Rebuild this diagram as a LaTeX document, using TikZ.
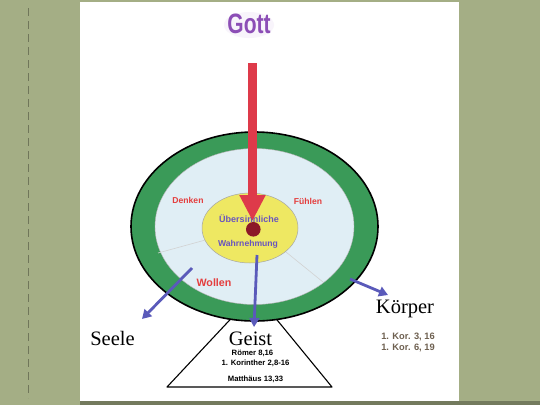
\documentclass[tikz,border=0pt]{standalone}
\usepackage{fontspec}
\setmainfont{Liberation Serif}
\setsansfont{Liberation Sans}
\usetikzlibrary{shapes.geometric}
\usetikzlibrary{positioning}
\usetikzlibrary{arrows.meta}
\definecolor{leinen}{RGB}{164,174,133}
\definecolor{naht}{RGB}{112,118,90}
\definecolor{ringgruen}{RGB}{58,154,88}
\definecolor{seelblau}{RGB}{224,238,245}
\definecolor{kerngelb}{RGB}{238,232,98}
\definecolor{dunkelrot}{RGB}{140,24,40}
\definecolor{pfeilrot}{RGB}{222,58,74}
\definecolor{pfeilblau}{RGB}{90,90,186}
\definecolor{lila}{RGB}{140,78,182}
\definecolor{schriftblau}{RGB}{105,85,190}
\definecolor{schriftrot}{RGB}{228,62,62}
\definecolor{stellbraun}{RGB}{110,96,80}
\tikzset{
    ringnode/.style = {ellipse, draw=black, line width=1.6pt, fill=ringgruen, minimum width=247pt, minimum height=189pt, inner sep=0pt},
    seelnode/.style = {ellipse, draw=gray!60, line width=0.4pt, fill=seelblau, minimum width=199pt, minimum height=156pt, inner sep=0pt},
    kernnode/.style = {ellipse, draw=gray!70, line width=0.5pt, fill=kerngelb, minimum width=96pt, minimum height=70pt, inner sep=0pt},
    punkt/.style = {circle, fill=dunkelrot, minimum size=14.6pt, inner sep=0pt},
    wort/.style = {font=\sffamily\bfseries\fontsize{8.6}{10}\selectfont, anchor=base, inner sep=0pt},
    wortrot/.style = {wort, text=schriftrot},
    wortblau/.style = {wort, text=schriftblau, font=\sffamily\bfseries\fontsize{9}{10}\selectfont},
    titel/.style = {font=\fontsize{20.5}{22}\selectfont, anchor=base, inner sep=0pt},
    stelle/.style = {font=\sffamily\bfseries\fontsize{7.7}{9}\selectfont, anchor=base, inner sep=0pt},
    gott/.style = {font=\sffamily\bfseries\fontsize{28}{30}\selectfont, text=lila, anchor=base, inner sep=0pt},
    pfeilb/.style = {-{Triangle[width=10pt,length=9pt]}, line width=2.8pt, pfeilblau},
    pfeilr/.style = {-{Triangle[width=24.5pt,length=26pt]}, line width=9pt, pfeilrot},
    teiler/.style = {gray!35, line width=0.6pt}
}

\begin{document}
\begin{tikzpicture}[x=1pt,y=-1pt]
\useasboundingbox (0,0) rectangle (540,405);
% slide
\fill[leinen] (0,0) rectangle (540,405);
\fill[leinen!70!black] (80,401) rectangle (540,405);
\fill[white] (80,2) rectangle (459,401);
\draw[naht, line width=0.9pt, dash pattern=on 8pt off 5pt] (28,8) -- (28,398);
% Geist dreieck
\coordinate (spitze) at (255,293);
\coordinate (links) at (167,387);
\coordinate (rechts) at (332,387);
\draw[fill=white, line width=1.1pt, line join=round] (spitze) -- (links) -- (rechts) -- cycle;
% ringe
\node[ringnode] (koerper) at (254.5,226.5) {};
\node[seelnode] (seele) at (254.5,226.5) {};
\coordinate (t1) at (158,253);
\coordinate (t2) at (323,282);
\draw[teiler] (seele.center) -- (t1);
\draw[teiler] (seele.center) -- (t2);
\node[kernnode] (geist) at (250,228) {};
%
\fill[lila!6] (249,25) ellipse [x radius=25, y radius=13];
\node[gott] (gott) at (249,33) {\scalebox{0.75}[1]{Gott}};
\node[wortrot] (denken) at (188,203) {Denken};
\node[wortrot] (fuehlen) at (308,204) {Fühlen};
\node[wortrot, font=\sffamily\bfseries\fontsize{10.7}{12}\selectfont] (wollen) at (214,286) {Wollen};
\node[wortblau] (ueber) at (249,222.3) {Übersinnliche};
\node[wortblau, font=\sffamily\bfseries\fontsize{8.6}{10}\selectfont] (wahr) at (248,246) {Wahrnehmung};
%
\node[titel] (seeletext) at (112.5,345.5) {Seele};
\node[titel] (geisttext) at (250.5,345.5) {Geist};
\node[titel] (koerpertext) at (405,313.5) {Körper};
\node[stelle] (roemer) at (252.5,355) {Römer 8,16};
\node[stelle] (korinther) at (255.5,365) {1. Korinther 2,8-16};
\node[stelle] (matthaeus) at (255.5,381) {Matthäus 13,33};
\node[stelle, text=stellbraun, font=\sffamily\bfseries\fontsize{9.3}{11}\selectfont] (kor1) at (408,339) {1. Kor. 3, 16};
\node[stelle, text=stellbraun, font=\sffamily\bfseries\fontsize{9.3}{11}\selectfont] (kor2) at (408,350) {1. Kor. 6, 19};
% pfeile
\coordinate (r0) at (252.5,63);
\coordinate (r1) at (252.5,221);
\draw[pfeilr] (r0) -- (r1);
\node[punkt] (punkt) at (253.3,229.3) {};
\coordinate (s0) at (192,268);
\coordinate (s1) at (142,319);
\coordinate (g0) at (257,255);
\coordinate (g1) at (254,327);
\coordinate (k0) at (350,279);
\coordinate (k1) at (388,295);
\draw[pfeilb] (s0) -- (s1);
\draw[pfeilb] (g0) -- (g1);
\draw[pfeilb] (k0) -- (k1);
\end{tikzpicture}
\end{document}
